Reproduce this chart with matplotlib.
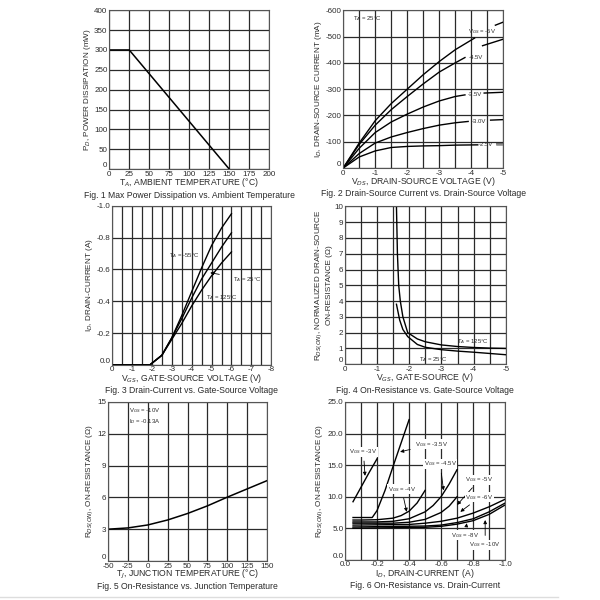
import numpy as np
import matplotlib.pyplot as plt
from matplotlib.lines import Line2D

plt.rcParams['font.family'] = ['Liberation Sans', 'DejaVu Sans']
plt.rcParams['axes.unicode_minus'] = False

# Fig 1: power derating
f1_temp = [0, 25, 150]
f1_power = [300, 300, 0]

# Fig 2: output characteristics (NaN = gap under label)
f2_curves = {
    '-5V':   ([0, -0.5, -1, -1.5, -2, -2.5, -3, -3.5, -4.1, np.nan, -4.75, -5],
              [0, -95, -180, -245, -300, -355, -405, -450, -494, np.nan, -543, -555]),
    '-4.5V': ([0, -0.5, -1, -1.5, -2, -2.5, -3, -3.5, -3.8, np.nan, -4.35, -5],
              [0, -90, -163, -222, -272, -320, -365, -400, -420, np.nan, -465, -490]),
    '-3.5V': ([0, -0.5, -1, -1.5, -2, -2.5, -3, -3.5, -3.8, np.nan, -4.4, -5],
              [0, -75, -135, -175, -205, -232, -255, -272, -278, np.nan, -285, -288]),
    '-3.0V': ([0, -0.5, -1, -1.5, -2, -2.5, -3, -3.5, -3.9, np.nan, -4.6, -5],
              [0, -55, -95, -118, -135, -150, -163, -172, -177, np.nan, -182, -184]),
    '-2.5V': ([0, -0.5, -1, -1.5, -2, -2.5, -3, -3.5, -4.2, np.nan, -4.8, -5],
              [0, -42, -65, -78, -82, -84, -85, -87, -88, np.nan, -92, -92]),
}
f2_label_pos = {'-5V': (-4.35, -518), '-4.5V': (-4.15, -420), '-3.5V': (-4.1, -280),
                '-3.0V': (-4.25, -178), '-2.5V': (-4.45, -88)}

# Fig 3: transfer characteristics
f3_vgs = [0, -1.9, -2.5, -3, -3.5, -4, -4.5, -5, -5.5, -6]
f3_id_m55 = [0, 0, -0.06, -0.17, -0.31, -0.46, -0.61, -0.75, -0.86, -0.95]
f3_id_25 = [0, 0, -0.06, -0.17, -0.29, -0.42, -0.54, -0.64, -0.74, -0.83]
f3_id_125 = [0, 0, -0.06, -0.16, -0.26, -0.37, -0.47, -0.56, -0.64, -0.71]

# Fig 4: normalized on-resistance vs gate voltage
f4_vgs_125 = [-1.6, -1.63, -1.67, -1.72, -1.8, -1.95, -2.25, -2.5, -3, -3.5, -4, -4.5, -5]
f4_r_125 = [10, 7, 5, 4, 3, 2.0, 1.6, 1.42, 1.22, 1.12, 1.06, 1.02, 1.0]
f4_vgs_25 = [-1.6, -1.7, -1.8, -1.95, -2.25, -2.5, -3, -3.5, -4, -4.5, -5]
f4_r_25 = [3.8, 2.8, 2.2, 1.75, 1.25, 1.07, 0.92, 0.83, 0.76, 0.68, 0.6]

# Fig 5: on-resistance vs junction temperature
f5_temp = [-50, -25, 0, 25, 50, 75, 100, 125, 150]
f5_r = [3.0, 3.12, 3.4, 3.87, 4.48, 5.2, 6.02, 6.8, 7.58]

# Fig 6: on-resistance vs drain current
f6_curves = [
    ([-0.05, -0.1, -0.15, -0.2], [9.2, 11.5, 13.8, 16.0]),
    ([-0.05, -0.1, -0.17, -0.2, -0.25, -0.3, -0.35, -0.4], [6.7, 6.7, 6.7, 7.8, 11.0, 14.8, 18.5, 22.2]),
    ([-0.05, -0.1, -0.2, -0.3, -0.35, -0.4, -0.45, -0.5], [6.3, 6.3, 6.35, 6.6, 7.0, 7.7, 9.0, 11.0]),
    ([-0.05, -0.2, -0.3, -0.4, -0.5, -0.55, -0.6, -0.65, -0.7], [6.0, 6.0, 6.1, 6.5, 7.6, 8.6, 10.0, 12.0, 14.3]),
    ([-0.05, -0.3, -0.4, -0.5, -0.6, -0.65, -0.7], [5.8, 5.8, 5.95, 6.4, 7.5, 8.5, 10.0]),
    ([-0.05, -0.4, -0.5, -0.6, -0.7, -0.8, -0.9, -1.0], [5.5, 5.6, 5.8, 6.1, 6.6, 7.4, 8.4, 9.6]),
    ([-0.05, -0.5, -0.6, -0.7, -0.8, -0.9, -1.0], [5.2, 5.35, 5.5, 5.9, 6.5, 7.6, 9.0]),
    ([-0.05, -0.5, -0.6, -0.7, -0.8, -0.9, -1.0], [5.0, 5.15, 5.3, 5.65, 6.2, 7.2, 8.7]),
]
# label text, text position, arrow tip
f6_labels = [
    ('-3V', (-0.115, 17.1), (-0.125, 13.3)),
    ('-3.5V', (-0.54, 18.3), (-0.344, 17.1)),
    ('-4.5V', (-0.594, 15.2), (-0.615, 11.0)),
    ('-4V', (-0.354, 11.2), (-0.385, 7.6)),
    ('-5V', (-0.84, 12.7), (-0.7, 8.7)),
    ('-6V', (-0.84, 9.9), (-0.72, 7.6)),
    ('-8V', (-0.75, 3.9), (-0.76, 5.8)),
    ('-10V', (-0.875, 2.4), (-0.875, 6.3)),
]

TICK = 5.8
LAB = 6.2
ANN = 4.3
INK = '#2b2b2b'


def style(ax, xgrid, ygrid, xlab, ylab, xfmt, yfmt):
    ax.set_xticks(xgrid)
    ax.set_xticklabels([xfmt(v) if xlab(v) else '' for v in xgrid])
    ax.set_yticks(ygrid)
    ax.set_yticklabels([yfmt(v) if ylab(v) else '' for v in ygrid])
    ax.set_xlim(xgrid[0], xgrid[-1])
    ax.set_ylim(ygrid[0], ygrid[-1])
    ax.tick_params(length=0, labelsize=TICK, pad=1.2, colors=INK)
    ax.get_yticklabels()[0].set_va('bottom')
    ax.grid(True, color='#2a2a2a', lw=0.9)
    for s in ax.spines.values():
        s.set_color('#555555')
        s.set_linewidth(0.8)
    ax.set_axisbelow(True)


def caption(ax, xl, yl, cap, ylpad=1):
    ax.set_xlabel(xl, fontsize=LAB, labelpad=-1, color=INK)
    ax.set_ylabel(yl, fontsize=LAB - 0.3, labelpad=ylpad, color=INK)
    ax.text(0.5, -0.135, cap, transform=ax.transAxes, ha='center', va='top',
            fontsize=LAB, color=INK)


fig = plt.figure(figsize=(6, 6), dpi=100)
is_int = lambda v: abs(v - round(v)) < 1e-9

# Fig 1
ax1 = fig.add_axes([0.182, 0.718, 0.267, 0.265])
style(ax1, np.arange(0, 201, 25), np.arange(0, 401, 50), lambda v: True, lambda v: True,
      lambda v: f'{v:g}', lambda v: f'{v:g}')
ax1.plot(f1_temp, f1_power, color='black', lw=1.1)
caption(ax1, 'T$_A$, AMBIENT TEMPERATURE (°C)', 'P$_D$, POWER DISSIPATION (mW)',
        'Fig. 1 Max Power Dissipation vs. Ambient Temperature')

# Fig 2
ax2 = fig.add_axes([0.572, 0.72, 0.267, 0.263])
style(ax2, np.arange(0, -5.01, -0.5), np.arange(0, -601, -100), is_int, lambda v: True,
      lambda v: f'{v:g}', lambda v: f'{v:g}')
for name, (xs, ys) in f2_curves.items():
    ax2.plot(xs, ys, color='black', lw=1.0)
    tx, ty = f2_label_pos[name]
    txt = 'V$_{GS}$ = ' + name if name == '-5V' else name
    ax2.text(tx, ty, txt, fontsize=ANN, ha='center', va='center', color=INK)
ax2.plot([-4.8, -5], [-92, -92], color='#888888', lw=1.8)
ax2.text(-0.3, -570, 'T$_A$ = 25°C', fontsize=ANN, ha='left', va='center', color=INK)
caption(ax2, 'V$_{DS}$, DRAIN-SOURCE VOLTAGE (V)', 'I$_D$, DRAIN-SOURCE CURRENT (mA)',
        'Fig. 2 Drain-Source Current vs. Drain-Source Voltage')

# Fig 3
ax3 = fig.add_axes([0.187, 0.392, 0.265, 0.265])
style(ax3, np.arange(0, -8.01, -0.5), np.arange(0, -1.01, -0.2), is_int, lambda v: True,
      lambda v: f'{v:g}', lambda v: f'{v:.1f}')
ax3.plot(f3_vgs, f3_id_m55, color='black', lw=1.0)
ax3.plot(f3_vgs, f3_id_25, color='black', lw=1.0)
ax3.plot(f3_vgs, f3_id_125, color='black', lw=1.0)
ax3.text(-3.62, -0.684, 'T$_A$ = -55°C', fontsize=ANN, ha='center', va='center', color=INK)
ax3.annotate('T$_A$ = 25°C', xy=(-4.93, -0.579), xytext=(-6.8, -0.537), fontsize=ANN,
             ha='center', va='center', color=INK,
             arrowprops=dict(arrowstyle='-|>', color='black', lw=0.6, mutation_scale=5,
                             shrinkA=8, shrinkB=0))
ax3.text(-5.5, -0.42, 'T$_A$ = 125°C', fontsize=ANN, ha='center', va='center', color=INK)
caption(ax3, 'V$_{GS}$, GATE-SOURCE VOLTAGE (V)', 'I$_D$, DRAIN-CURRENT (A)',
        'Fig. 3 Drain-Current vs. Gate-Source Voltage')

# Fig 4
ax4 = fig.add_axes([0.575, 0.393, 0.268, 0.263])
style(ax4, np.arange(0, -5.01, -0.5), np.arange(0, 10.01, 1), is_int, lambda v: True,
      lambda v: f'{v:g}', lambda v: f'{v:g}')
ax4.plot(f4_vgs_125, f4_r_125, color='black', lw=1.0)
ax4.plot(f4_vgs_25, f4_r_25, color='black', lw=1.0)
ax4.text(-3.99, 1.41, 'T$_A$ = 125°C', fontsize=ANN, ha='center', va='center', color=INK)
ax4.text(-2.74, 0.29, 'T$_A$ = 25°C', fontsize=ANN, ha='center', va='center', color=INK)
caption(ax4, 'V$_{GS}$, GATE-SOURCE (V)',
        'R$_{DS(ON)}$, NORMALIZED DRAIN-SOURCE\nON-RESISTANCE (Ω)',
        'Fig. 4 On-Resistance vs. Gate-Source Voltage')

# Fig 5
ax5 = fig.add_axes([0.18, 0.065, 0.265, 0.265])
style(ax5, np.arange(-50, 151, 25), np.arange(0, 15.01, 3), lambda v: True, lambda v: True,
      lambda v: f'{v:g}', lambda v: f'{v:g}')
ax5.plot(f5_temp, f5_r, color='black', lw=1.1)
ax5.text(-24, 13.7, 'V$_{GS}$ = -10V\nI$_D$ = -0.13A', fontsize=ANN, ha='left', va='center',
         color=INK, linespacing=1.3)
caption(ax5, 'T$_J$, JUNCTION TEMPERATURE (°C)', 'R$_{DS(ON)}$, ON-RESISTANCE (Ω)',
        'Fig. 5 On-Resistance vs. Junction Temperature')

# Fig 6
ax6 = fig.add_axes([0.575, 0.067, 0.267, 0.263])
style(ax6, np.round(np.arange(0, -1.01, -0.1), 1), np.arange(0, 25.01, 5),
      lambda v: is_int(v * 5), lambda v: True, lambda v: f'{v:.1f}', lambda v: f'{v:.1f}')
for xs, ys in f6_curves:
    ax6.plot(xs, ys, color='black', lw=1.0)
for name, (tx, ty), (px, py) in f6_labels:
    ax6.annotate('V$_{GS}$ = ' + name, xy=(px, py), xytext=(tx, ty), fontsize=ANN,
                 ha='center', va='center', color=INK,
                 bbox=dict(boxstyle='square,pad=0.1', fc='white', ec='none'),
                 arrowprops=dict(arrowstyle='-|>', color='black', lw=0.6, mutation_scale=5,
                                 shrinkA=3, shrinkB=0))
caption(ax6, 'I$_D$, DRAIN-CURRENT (A)', 'R$_{DS(ON)}$, ON-RESISTANCE (Ω)',
        'Fig. 6 On-Resistance vs. Drain-Current')

fig.add_artist(Line2D([0.0, 0.93], [0.005, 0.005], color='#dddddd', lw=1))

fig.savefig('out.png', dpi=100)
